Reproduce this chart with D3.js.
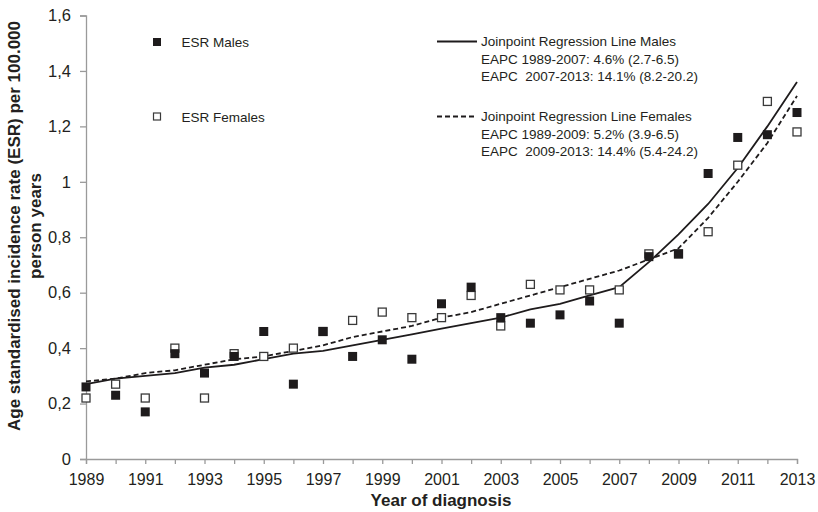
<!DOCTYPE html>
<html>
<head>
<meta charset="utf-8">
<script src="https://cdn.jsdelivr.net/npm/d3@7"></script>
<style>
  html, body { margin: 0; padding: 0; background: #fff; }
  svg { display: block; font-family: "Liberation Sans", Arimo, sans-serif; }
  text { white-space: pre; font-family: "Liberation Sans", Arimo, sans-serif; }
</style>
</head>
<body>
<svg id="chart" width="818" height="512"></svg>
<script>
const years = [1989,1990,1991,1992,1993,1994,1995,1996,1997,1998,1999,2000,2001,2002,2003,2004,2005,2006,2007,2008,2009,2010,2011,2012,2013];
const esrMales = [0.26,0.23,0.17,0.38,0.31,0.37,0.46,0.27,0.46,0.37,0.43,0.36,0.56,0.62,0.51,0.49,0.52,0.57,0.49,0.73,0.74,1.03,1.16,1.17,1.25];
const esrFemales = [0.22,0.27,0.22,0.40,0.22,0.38,0.37,0.40,0.46,0.50,0.53,0.51,0.51,0.59,0.48,0.63,0.61,0.61,0.61,0.74,0.74,0.82,1.06,1.29,1.18];
const jpMales = [0.27,0.29,0.30,0.31,0.33,0.34,0.36,0.38,0.39,0.41,0.43,0.45,0.47,0.49,0.51,0.54,0.56,0.59,0.62,0.71,0.81,0.92,1.05,1.20,1.36];
const jpFemales = [0.28,0.29,0.31,0.32,0.34,0.36,0.37,0.39,0.41,0.44,0.46,0.48,0.51,0.53,0.56,0.59,0.62,0.65,0.68,0.72,0.76,0.87,1.00,1.14,1.31];
const yTicks = [0,0.2,0.4,0.6,0.8,1,1.2,1.4,1.6];
const yTickLabels = ["0","0,2","0,4","0,6","0,8","1","1,2","1,4","1,6"];
const xTickLabels = [1989,1991,1993,1995,1997,1999,2001,2003,2005,2007,2009,2011,2013];
const legendPoints = ["ESR Males","ESR Females"];
const legendMales = ["Joinpoint Regression Line Males","EAPC 1989-2007: 4.6% (2.7-6.5)","EAPC  2007-2013: 14.1% (8.2-20.2)"];
const legendFemales = ["Joinpoint Regression Line Females","EAPC 1989-2009: 5.2% (3.9-6.5)","EAPC  2009-2013: 14.4% (5.4-24.2)"];

const FONT = "'Liberation Sans', Arimo, sans-serif";
const svg = d3.select("#chart");
const mLeft = 86, mRight = 797, mTop = 15.5, mBottom = 459;
const x = d3.scaleLinear().domain([1989, 2013]).range([mLeft, mRight]);
const y = d3.scaleLinear().domain([0, 1.6]).range([mBottom, mTop]);
const axisColor = "#9a9a9a";
const textColor = "#231f20";
const markColor = "#1e1b1c";

// Y axis
const yAxis = d3.axisLeft(y).tickValues(yTicks).tickFormat((d,i) => yTickLabels[i]).tickSize(6).tickPadding(9);
const gy = svg.append("g").attr("transform", `translate(${mLeft},0)`).call(yAxis);
gy.attr("font-family", FONT);
gy.select(".domain").attr("stroke", axisColor).attr("stroke-width", 1.3);
gy.selectAll(".tick line").attr("stroke", axisColor).attr("stroke-width", 1.3);
gy.selectAll(".tick text").attr("fill", textColor).style("font-size", "16.5px").style("font-family", FONT);

// X axis
const xAxis = d3.axisBottom(x).tickValues(years).tickFormat(d => xTickLabels.includes(d) ? d : "").tickSize(5).tickPadding(10);
const gx = svg.append("g").attr("transform", `translate(0,${mBottom})`).call(xAxis);
gx.attr("font-family", FONT);
gx.select(".domain").attr("stroke", axisColor).attr("stroke-width", 1.3);
gx.selectAll(".tick line").attr("stroke", axisColor).attr("stroke-width", 1.3);
gx.selectAll(".tick text").attr("fill", textColor).style("font-size", "16px").style("font-family", FONT);

// Axis titles
svg.append("text").attr("x", 441).attr("y", 506).attr("text-anchor", "middle")
  .attr("fill", textColor).style("font-size", "17px").style("font-weight", "bold").text("Year of diagnosis");
const yt = svg.append("text").attr("transform", "translate(20,226) rotate(-90)").attr("text-anchor", "middle")
  .attr("fill", textColor).style("font-size", "17px").style("font-weight", "bold");
yt.append("tspan").attr("x", 0).attr("y", 0).text("Age standardised incidence rate (ESR) per 100.000");
yt.append("tspan").attr("x", 0).attr("y", 20.5).text("person years");

// Regression lines
const line = d3.line().x((d,i) => x(years[i])).y(d => y(d));
svg.append("path").datum(jpMales).attr("d", line).attr("fill", "none").attr("stroke", markColor).attr("stroke-width", 1.8);
svg.append("path").datum(jpFemales).attr("d", line).attr("fill", "none").attr("stroke", markColor).attr("stroke-width", 1.8).attr("stroke-dasharray", "5,3");

// Points (females under males)
const so = 8;
svg.append("g").selectAll("rect").data(esrFemales).join("rect")
  .attr("x", (d,i) => x(years[i]) - so/2).attr("y", d => y(d) - so/2)
  .attr("width", so).attr("height", so).attr("fill", "#fff").attr("stroke", "#3a3a3a").attr("stroke-width", 1.3);
const sz = 9;
svg.append("g").selectAll("rect").data(esrMales).join("rect")
  .attr("x", (d,i) => x(years[i]) - sz/2).attr("y", d => y(d) - sz/2)
  .attr("width", sz).attr("height", sz).attr("fill", markColor);

// Legend: points
const lg = svg.append("g").style("font-size", "13.5px").attr("fill", textColor);
lg.append("rect").attr("x", 153).attr("y", 38).attr("width", 8).attr("height", 8).attr("fill", markColor);
lg.append("text").attr("x", 181.5).attr("y", 46.5).text(legendPoints[0]);
lg.append("rect").attr("x", 153.5).attr("y", 113).attr("width", 7).attr("height", 7).attr("fill", "#fff").attr("stroke", "#3a3a3a").attr("stroke-width", 1.2);
lg.append("text").attr("x", 181.5).attr("y", 121.5).text(legendPoints[1]);

// Legend: lines
lg.append("line").attr("x1", 437).attr("x2", 477).attr("y1", 41.5).attr("y2", 41.5).attr("stroke", markColor).attr("stroke-width", 1.8);
legendMales.forEach((t,i) => lg.append("text").attr("x", 481).attr("y", 46 + i*17.5).text(t));
lg.append("line").attr("x1", 437).attr("x2", 477).attr("y1", 116.5).attr("y2", 116.5).attr("stroke", markColor).attr("stroke-width", 1.8).attr("stroke-dasharray", "5,3");
legendFemales.forEach((t,i) => lg.append("text").attr("x", 481).attr("y", 121 + i*17.5).text(t));
</script>
</body>
</html>
